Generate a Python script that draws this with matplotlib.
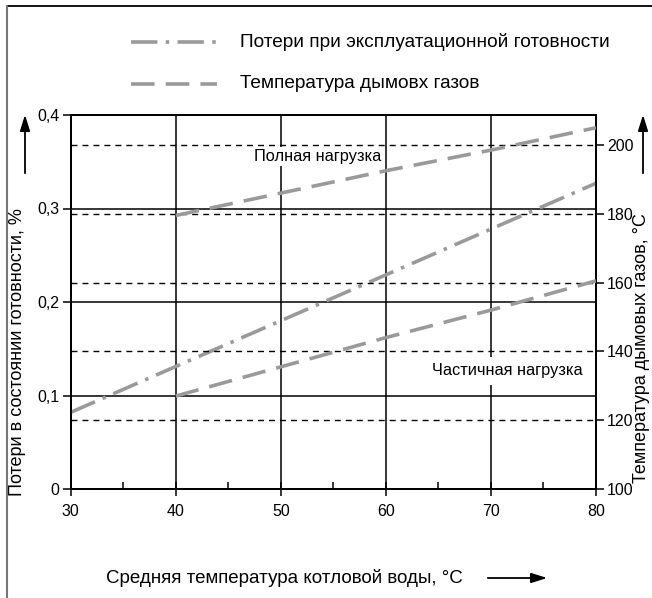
import matplotlib
matplotlib.use("Agg")
import matplotlib.pyplot as plt
from matplotlib.lines import Line2D
from matplotlib.patches import FancyArrowPatch

plt.rcParams["font.family"] = ["Liberation Sans", "DejaVu Sans"]
plt.rcParams["lines.scale_dashes"] = False

# --- data ---
water_temp = [30, 40, 50, 60, 70, 80]
standby_loss = [0.082, 0.131, 0.180, 0.229, 0.278, 0.327]

load_temp = [40, 50, 60, 70, 80]
flue_full = [179.5, 186.0, 192.5, 198.5, 205.0]
flue_partial = [127.0, 135.5, 144.0, 152.0, 160.5]

x_ticks = [30, 40, 50, 60, 70, 80]
loss_ticks = [0, 0.1, 0.2, 0.3, 0.4]
loss_labels = ["0", "0,1", "0,2", "0,3", "0,4"]
flue_ticks = [100, 120, 140, 160, 180, 200]

GRAY = "#9a9a9a"
DASH = (0, (17, 8))
DASHDOT = (0, (19, 6, 2.5, 6))
GRID_DASH = (0, (4.3, 3.6))

fig = plt.figure(figsize=(6.52, 5.98), dpi=100)
W, H = 652, 598


def fx(px):
    return px / W


def fy(py):
    return 1 - py / H


ax = fig.add_axes([fx(70.7), fy(489), fx(596) - fx(70.7), fy(115) - fy(489)])
ax2 = ax.twinx()

ax.set_xlim(30, 80)
ax.set_ylim(0, 0.4)
ax2.set_ylim(100, 208.7)

# solid grid
for v in [0.1, 0.2, 0.3]:
    ax.axhline(v, color="black", lw=1.1, zorder=1)
for v in [40, 50, 60, 70]:
    ax.axvline(v, color="black", lw=1.1, zorder=1)

# dashed lines at flue temperature ticks
for t in flue_ticks[1:]:
    ax2.plot([30, 80], [t, t], color="black", lw=1.0, linestyle=GRID_DASH, zorder=1)

# label boxes
ax2.text(59.6, 196.6, "Полная нагрузка", fontsize=11.8, ha="right", va="center",
         bbox=dict(facecolor="white", edgecolor="none", pad=1.5), zorder=2)
ax2.text(64.4, 134.3, "Частичная нагрузка", fontsize=11.8, ha="left", va="center",
         bbox=dict(facecolor="white", edgecolor="none", pad=5), zorder=2)

# data lines
ax.plot(water_temp, standby_loss, color=GRAY, lw=2.6, linestyle=DASHDOT, zorder=3)
ax2.plot(load_temp, flue_full, color=GRAY, lw=2.6, linestyle=DASH, zorder=3)
ax2.plot(load_temp, flue_partial, color=GRAY, lw=2.6, linestyle=DASH, zorder=3)

# ticks
ax.set_xticks(x_ticks)
ax.set_xticks([35, 45, 55, 65, 75], minor=True)
ax.tick_params(axis="x", which="major", direction="inout", length=10, width=1.1,
               labelsize=11.5, pad=6)
ax.tick_params(axis="x", which="minor", direction="in", length=5, width=1.1)
ax.set_yticks(loss_ticks)
ax.set_yticklabels(loss_labels)
ax.tick_params(axis="y", direction="out", length=6, width=1.1, labelsize=11.5, pad=2)
ax2.set_yticks(flue_ticks)
ax2.tick_params(axis="y", direction="out", length=6, width=1.1, labelsize=11.5, pad=2)

for a in (ax, ax2):
    for s in a.spines.values():
        s.set_linewidth(1.3)
        s.set_color("black")

# axis labels
fig.text(fx(18), fy(352), "Потери в состоянии готовности, %", rotation=90,
         ha="center", va="center", fontsize=13)
fig.text(fx(642), fy(348), "Температура дымовых газов, °C", rotation=90,
         ha="center", va="center", fontsize=13)
fig.text(fx(106), fy(578), "Средняя температура котловой воды, °C",
         ha="left", va="center", fontsize=13.5)

# arrows
arrow_kw = dict(arrowstyle="-|>,head_length=0.8,head_width=0.25", color="black",
                lw=1.3, mutation_scale=12, transform=fig.transFigure)
fig.add_artist(FancyArrowPatch((fx(25), fy(176)), (fx(25), fy(112)), **arrow_kw))
fig.add_artist(FancyArrowPatch((fx(643), fy(176)), (fx(643), fy(112)), **arrow_kw))
fig.add_artist(FancyArrowPatch((fx(485), fy(578)), (fx(550), fy(578)), **arrow_kw))

# legend drawn by hand
fig.add_artist(Line2D([fx(131), fx(217)], [fy(42), fy(42)], color=GRAY, lw=2.6,
                      linestyle=DASHDOT))
fig.add_artist(Line2D([fx(131), fx(217)], [fy(84), fy(84)], color=GRAY, lw=2.6,
                      linestyle=DASH))
fig.text(fx(240), fy(42), "Потери при эксплуатационной готовности", fontsize=13.7,
         va="center")
fig.text(fx(240), fy(84), "Температура дымовх газов", fontsize=13.7, va="center")

# outer frame
fig.add_artist(Line2D([fx(7), 1], [fy(6), fy(6)], color="black", lw=1.3))
fig.add_artist(Line2D([fx(7), fx(7)], [fy(6), 0], color="#777777", lw=1.5))

fig.savefig("out.png", dpi=100)
